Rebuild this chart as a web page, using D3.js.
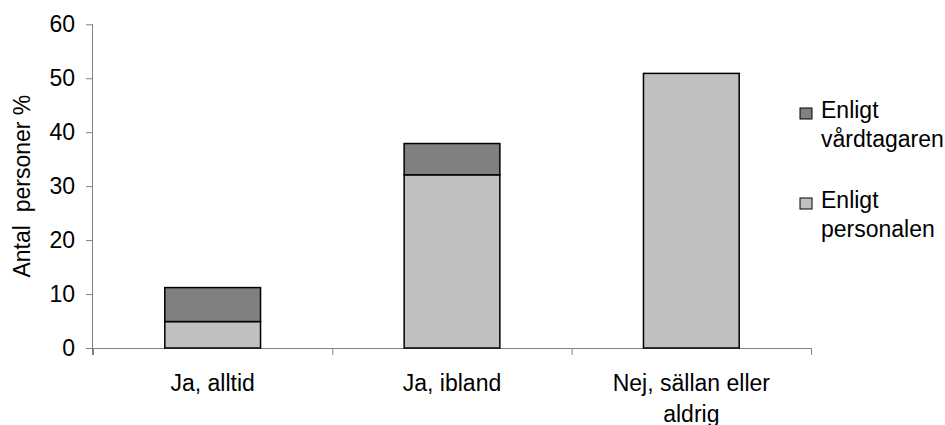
<!DOCTYPE html>
<html>
<head>
<meta charset="utf-8">
<script src="https://cdn.jsdelivr.net/npm/d3@7"></script>
<style>
  html, body { margin: 0; padding: 0; background: #fff; }
  svg { display: block; font-family: "Liberation Sans", Arial, sans-serif; }
  .ytitle { white-space: pre; }
</style>
</head>
<body>
<svg id="chart" width="945" height="425"></svg>
<script>
// Answer categories and stacked shares (percent of persons)
const categories = ["Ja, alltid", "Ja, ibland", "Nej, sällan eller aldrig"];
const enligtPersonalen = [4.9, 32.1, 50.9];
const enligtVardtagaren = [6.3, 5.8, 0];
const seriesNames = ["Enligt personalen", "Enligt vårdtagaren"];
const yTicks = [0, 10, 20, 30, 40, 50, 60];

const svg = d3.select("#chart");
const plot = { left: 93, right: 811, top: 24.3, bottom: 348 };
const colors = { "Enligt personalen": "#c0c0c0", "Enligt vårdtagaren": "#808080" };
const axisColor = "#808080";
const fontSize = "23px";

const x = d3.scaleBand()
  .domain(categories)
  .range([plot.left, plot.right])
  .paddingInner(0.6)
  .paddingOuter(0.3);

const y = d3.scaleLinear().domain([0, 60]).range([plot.bottom, plot.top]);

// Stack the two series
const rows = categories.map((c, i) => ({
  category: c,
  "Enligt personalen": enligtPersonalen[i],
  "Enligt vårdtagaren": enligtVardtagaren[i]
}));
const stacked = d3.stack().keys(seriesNames)(rows);

// Y axis
const yAxis = svg.append("g")
  .attr("transform", `translate(${plot.left},0)`)
  .call(d3.axisLeft(y).tickValues(yTicks).tickSize(7).tickPadding(11).tickFormat(d3.format("d")));
yAxis.select(".domain").attr("stroke", axisColor).attr("d", `M-0.5,${plot.top}V${plot.bottom + 7}`);
yAxis.selectAll(".tick line").attr("stroke", axisColor);
yAxis.selectAll(".tick text").attr("fill", "#000").style("font-size", fontSize);

// X axis line with ticks at category boundaries
const step = x.step();
const boundaries = d3.range(categories.length + 1).map(i => plot.left + i * step);
const xAxis = svg.append("g");
xAxis.append("line")
  .attr("x1", plot.left).attr("x2", plot.right)
  .attr("y1", plot.bottom + 0.5).attr("y2", plot.bottom + 0.5)
  .attr("stroke", axisColor);
xAxis.selectAll("line.tk").data(boundaries).join("line")
  .attr("class", "tk")
  .attr("x1", d => d + 0.5).attr("x2", d => d + 0.5)
  .attr("y1", plot.bottom).attr("y2", plot.bottom + 7)
  .attr("stroke", axisColor);

// Category labels, wrapped to the band width
const labels = xAxis.selectAll("text").data(categories).join("text")
  .attr("x", d => x(d) + x.bandwidth() / 2)
  .attr("y", 391)
  .attr("text-anchor", "middle")
  .style("font-size", fontSize)
  .attr("fill", "#000");
labels.each(function(d) {
  const t = d3.select(this);
  const words = d.split(" ");
  t.text(null);
  let line = [];
  let tspan = t.append("tspan").attr("x", x(d) + x.bandwidth() / 2).attr("dy", 0);
  words.forEach(w => {
    line.push(w);
    tspan.text(line.join(" "));
    if (tspan.node().getComputedTextLength() > 205 && line.length > 1) {
      line.pop();
      tspan.text(line.join(" "));
      line = [w];
      tspan = t.append("tspan").attr("x", x(d) + x.bandwidth() / 2).attr("dy", 31).text(w);
    }
  });
});

// Stacked bars
svg.append("g").selectAll("g").data(stacked).join("g")
  .attr("fill", d => colors[d.key])
  .selectAll("rect").data(d => d.filter(s => s[1] - s[0] > 0)).join("rect")
  .attr("x", d => x(d.data.category))
  .attr("y", d => y(d[1]))
  .attr("width", x.bandwidth())
  .attr("height", d => y(d[0]) - y(d[1]))
  .attr("stroke", "#000")
  .attr("stroke-width", 1.5);

// Y axis title
svg.append("text")
  .attr("class", "ytitle")
  .attr("transform", `translate(30,${(plot.top + plot.bottom) / 2}) rotate(-90)`)
  .attr("text-anchor", "middle")
  .style("font-size", fontSize)
  .attr("fill", "#000")
  .text("Antal  personer %");

// Legend (darker series first)
const legendItems = ["Enligt vårdtagaren", "Enligt personalen"];
const legend = svg.append("g");
legendItems.forEach((name, i) => {
  const g = legend.append("g").attr("transform", `translate(800,${108 + i * 90})`);
  g.append("rect")
    .attr("width", 12).attr("height", 11)
    .attr("fill", colors[name])
    .attr("stroke", "#000").attr("stroke-width", 1);
  const parts = name.split(" ");
  const t = g.append("text").attr("x", 21).attr("y", 10).style("font-size", fontSize).attr("fill", "#000");
  t.append("tspan").attr("x", 21).attr("dy", 0).text(parts[0]);
  t.append("tspan").attr("x", 21).attr("dy", 29).text(parts.slice(1).join(" "));
});
</script>
</body>
</html>
